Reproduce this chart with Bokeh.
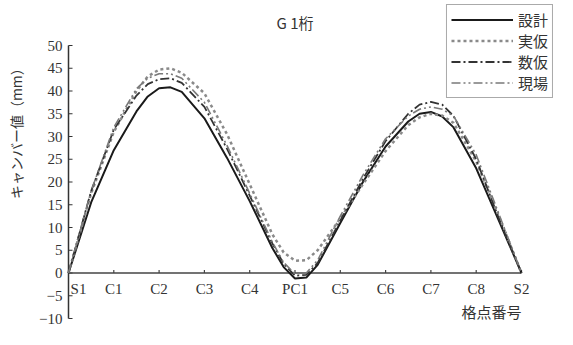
import math
from bokeh.plotting import figure
from bokeh.models import Range1d, ColumnDataSource
from bokeh.core.properties import value
from bokeh.embed import file_html
from bokeh.resources import INLINE

# ---- data ----
nodes = ["S1", "C1", "C2", "C3", "C4", "PC1", "C5", "C6", "C7", "C8", "S2"]
pos = [0, 0.5, 1, 1.5, 1.75, 2, 2.25, 2.5, 3, 3.5, 4, 4.5, 4.75, 5, 5.25, 5.5,
       6, 6.5, 7, 7.5, 7.75, 8, 8.25, 8.5, 9, 9.5, 10]
sekkei = [0, 15.5, 27, 35.5, 38.8, 40.6, 40.8, 39.8, 34, 25.3, 15.8, 5.5, 1.3, -1.2, -1.0, 1.8,
          11, 20, 27.8, 33.3, 35, 35.4, 34.4, 32, 23, 11.5, 0]
jikari = [0, 17.5, 31, 40, 43.2, 44.7, 45, 44, 39.5, 30.5, 19.5, 8.5, 4.5, 2.7, 2.8, 5.0,
          12, 19.5, 26.8, 32.5, 34.2, 35, 34.6, 33, 24.5, 12.5, 0]
sukari = [0, 18, 31.5, 39, 41.5, 42.6, 42.8, 41.8, 36.5, 27.3, 17, 6.5, 2, -0.6, -0.4, 2.2,
          11.5, 20.7, 29, 35, 37, 37.6, 37, 34.5, 25, 12, 0]
genba = [0, 18, 32, 40.5, 42.8, 43.8, 43.8, 42.8, 37.5, 28, 17.5, 6.8, 2.3, -0.2, 0, 2.8,
         12.5, 21.5, 29.5, 34.5, 36, 36.5, 36, 34.5, 26, 13, 0]
y_ticks = [-10, -5, 0, 5, 10, 15, 20, 25, 30, 35, 40, 45, 50]
y_tick_labels = ["−10", "−5", "0", "5", "10", "15", "20", "25", "30", "35", "40", "45", "50"]

series_names = ["設計", "実仮", "数仮", "現場"]

JP = "Noto Sans CJK JP"
SERIF = "Liberation Serif"
INK = "#333333"

# pixel geometry: S1 at px 76, 45.3 px per node; y=50 at px 53, y=-10 at px 326
px_x = 45.3
px_y = (326 - 53) / 60.0
x0 = -(76 - 8) / px_x
x1 = (565 - 76) / px_x
ytop = 50 + (53 - 8) / px_y
ybot = -10 - (337 - 326) / px_y

p = figure(width=557, height=329, output_backend="svg", toolbar_location=None,
           x_range=Range1d(x0, x1), y_range=Range1d(ybot, ytop),
           x_axis_location=None, y_axis_location=None,
           min_border_left=0, min_border_right=0, min_border_top=0, min_border_bottom=0)
p.grid.visible = False
p.outline_line_color = None
p.background_fill_color = "white"

# y axis (drawn at x = 0)
ny = len(y_ticks)
p.line([0, 0], [min(y_ticks), max(y_ticks)], line_color=INK, line_width=1.5)
p.segment(x0=[0] * ny, y0=y_ticks, x1=[4 / px_x] * ny, y1=y_ticks, line_color=INK, line_width=1.2)
p.text(x=[0] * ny, y=y_ticks, text=y_tick_labels, x_offset=-6, text_align="right",
       text_baseline="middle", text_font=value(SERIF), text_font_size="15px", text_color=INK)

# x axis drawn at y = 0
n = len(nodes)
xs = list(range(n))
p.line([xs[0], xs[-1]], [0, 0], line_color="#444444", line_width=1.5)
p.segment(x0=xs, y0=[0] * n, x1=xs, y1=[3 / px_y] * n, line_color="#444444", line_width=1.2)
offs = [10 if i == 0 else 0 for i in range(n)]
src = ColumnDataSource(dict(x=xs, y=[-16 / px_y] * n, t=nodes, o=offs))
p.text(x="x", y="y", text="t", x_offset="o", source=src, text_align="center",
       text_baseline="middle", text_font=value(SERIF), text_font_size="15px",
       text_color=INK)

# series
p.line(pos, sekkei, line_color="#1a1a1a", line_width=2, legend_label=series_names[0])
p.line(pos, jikari, line_color="#8a8a8a", line_width=2.5, line_dash="3 3",
       legend_label=series_names[1])
p.line(pos, sukari, line_color="#333333", line_width=1.8, line_dash="9 3 2 3",
       legend_label=series_names[2])
p.line(pos, genba, line_color="#7a7a7a", line_width=1.6, line_dash="9 3 2 3 2 3",
       legend_label=series_names[3])

# texts
p.text(x=[5], y=[50 + 23 / px_y], text=["G 1桁"], text_align="center", text_baseline="middle",
       text_font=value(JP), text_font_size="15px", text_color=INK)
p.text(x=[-(76 - 23) / px_x], y=[31.4], text=["キャンバー値（mm）"], angle=math.pi / 2,
       text_align="center", text_baseline="middle",
       text_font=value(JP), text_font_size="14px", text_color=INK)
p.text(x=[(499 - 76) / px_x], y=[-38 / px_y], text=["格点番号"], text_align="center",
       text_baseline="middle", text_font=value(JP), text_font_size="15px", text_color=INK)

lg = p.legend[0]
lg.location = "top_right"
lg.margin = 4
lg.padding = 4
lg.spacing = 0
lg.glyph_width = 62
lg.glyph_height = 15
lg.label_height = 15
lg.label_standoff = 5
lg.label_text_font = JP
lg.label_text_font_size = "15px"
lg.label_text_color = INK
lg.label_text_line_height = 1.0
lg.border_line_color = "#555555"
lg.border_line_width = 1.5
lg.background_fill_alpha = 1

open("out.html", "w").write(file_html(p, INLINE))
